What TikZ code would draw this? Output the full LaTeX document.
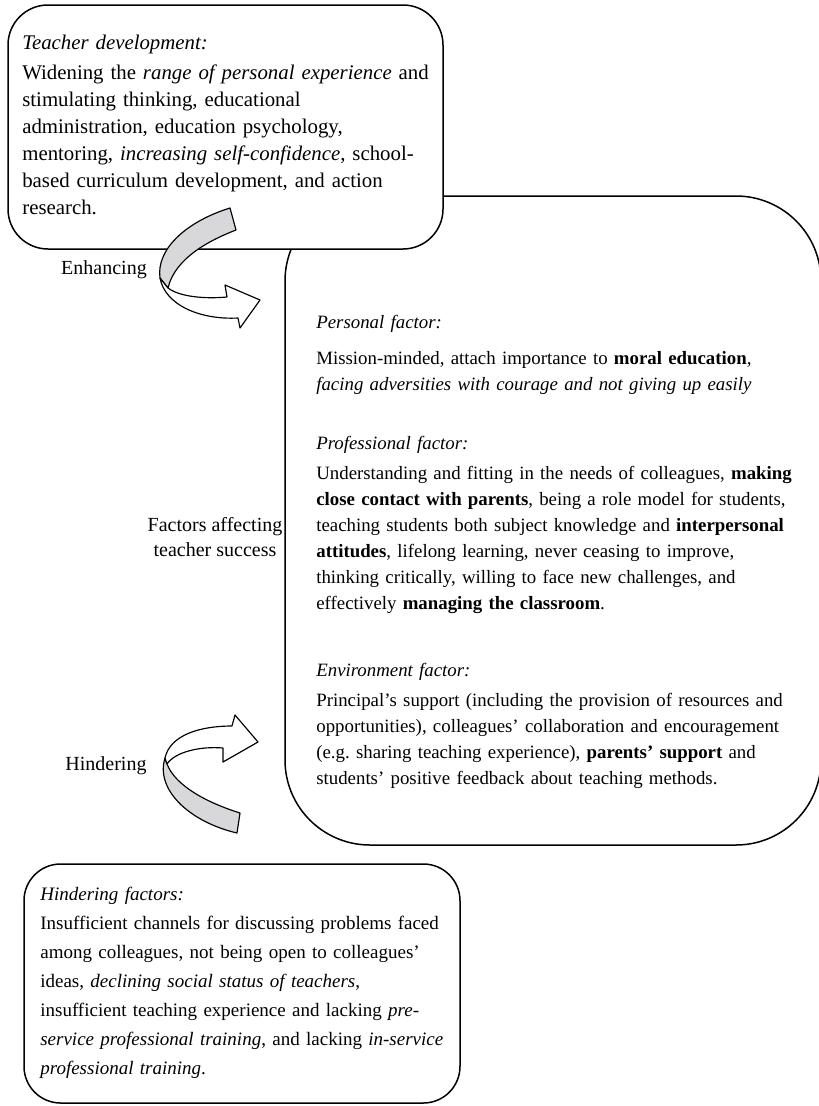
\documentclass[tikz,border=0pt]{standalone}
\usepackage{fontspec}
\setmainfont{Liberation Serif}
\usetikzlibrary{positioning}
\definecolor{ribbongray}{RGB}{216,216,218}

\begin{document}
\begin{tikzpicture}[
    x=0.6pt, y=-0.6pt,
    every node/.style = {font=\fontsize{12}{15}\selectfont, inner sep=0pt},
    panel/.style = {draw, line width=0.9pt, fill=white},
    devbox/.style = {panel, rounded corners=24pt},
    factorbox/.style = {panel, rounded corners=51pt},
    hinderbox/.style = {panel, rounded corners=22pt},
    bodytext/.style = {anchor=base west, align=left, text width=310pt},
    factortext/.style = {bodytext, font=\fontsize{11.3}{15.6}\selectfont},
    sidelbl/.style = {align=center},
    ribbon/.style = {draw, line width=0.7pt, line join=round},
    backside/.style = {ribbon, fill=ribbongray},
    frontside/.style = {ribbon, fill=white}
]
\useasboundingbox (0,0) rectangle (819,1106);

%% Boxes
\draw[factorbox] (285,196) rectangle (821,845);
\draw[devbox]    (8,5)     rectangle (443,249);
\draw[hinderbox] (24,864)  rectangle (460,1103);

%% Teacher development
\node[bodytext, text width=270pt, font=\fontsize{12.5}{16.2}\selectfont] (devtext) at (22,49) {%
\textit{Teacher development:}\\[1.8pt]
Widening the \textit{range of personal experience} and\\
stimulating thinking, educational\\
administration, education psychology,\\
mentoring, \textit{increasing self-confidence}, school-\\
based curriculum development, and action\\
research.};

%% Factors
\node[factortext] (personal) at (316,328) {%
\textit{Personal factor:}\\[6pt]
Mission-minded, attach importance to \textbf{moral education},\\
\textit{facing adversities with courage and not giving up easily}};
\node[factortext] (professional) at (316,449) {%
\textit{Professional factor:}\\[2.4pt]
Understanding and fitting in the needs of colleagues, \textbf{making}\\
\textbf{close contact with parents}, being a role model for students,\\
teaching students both subject knowledge and \textbf{interpersonal}\\
\textbf{attitudes}, lifelong learning, never ceasing to improve,\\
thinking critically, willing to face new challenges, and\\
effectively \textbf{managing the classroom}.};
\node[factortext] (environment) at (316,676) {%
\textit{Environment factor:}\\[2.4pt]
Principal's support (including the provision of resources and\\
opportunities), colleagues' collaboration and encouragement\\
(e.g.\ sharing teaching experience), \textbf{parents' support} and\\
students' positive feedback about teaching methods.};

%% Hindering factors
\node[bodytext, text width=270pt, font=\fontsize{11.4}{17.4}\selectfont] (hindertext) at (40,900) {%
\textit{Hindering factors:}\\
Insufficient channels for discussing problems faced\\
among colleagues, not being open to colleagues'\\
ideas, \textit{declining social status of teachers},\\
insufficient teaching experience and lacking \textit{pre-}\\
\textit{service professional training}, and lacking \textit{in-service}\\
\textit{professional training}.};

%% Side labels
\node[sidelbl] (enhancelbl) at (104,270) {Enhancing};
\node[sidelbl] (factorlbl)  at (215,537) {Factors affecting\\teacher success};
\node[sidelbl] (hinderlbl)  at (106,766) {Hindering};

%% Enhancing ribbon
\draw[backside] (230,208) -- (236,230) .. controls (210,240) and (175,258) .. (168,288)
    -- (160,278) .. controls (156,250) and (185,222) .. (230,208) -- cycle;
\draw[frontside] (168,288) .. controls (180,297) and (205,299) .. (227,297)
    -- (225,285) -- (260,300) -- (240,328) -- (238,318)
    .. controls (200,320) and (165,305) .. (160,278) -- cycle;

%% Hindering ribbon
\draw[backside] (165,758) .. controls (155,790) and (190,822) .. (237,833)
    -- (240,813) .. controls (205,802) and (175,785) .. (167,764) -- cycle;
\draw[frontside] (165,758) .. controls (170,735) and (200,726) .. (232,726)
    -- (235,715) -- (258,742) -- (223,762) -- (223,748)
    .. controls (200,746) and (175,752) .. (167,764) -- cycle;

\end{tikzpicture}
\end{document}
